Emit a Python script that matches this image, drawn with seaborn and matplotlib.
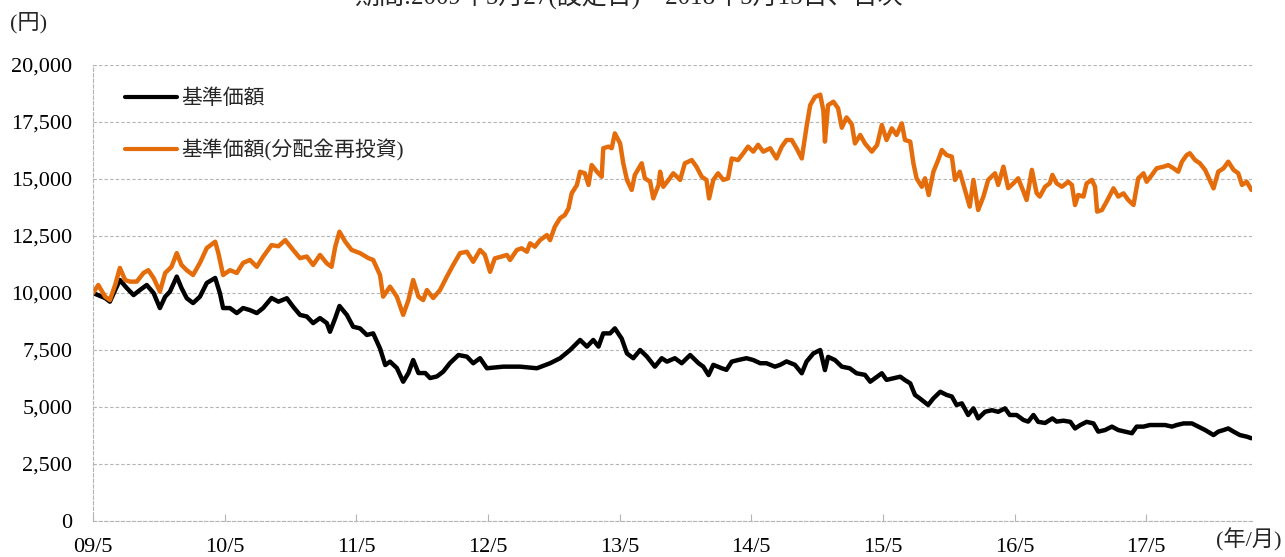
import numpy as np
import pandas as pd
import seaborn as sns
import matplotlib.pyplot as plt
from matplotlib.ticker import FuncFormatter

# Daily NAV, x = trading day since launch (2009/5/27)
nav_days = [0, 23, 32, 42, 51, 64, 77, 89, 102, 115, 127, 137, 146, 159, 168, 178, 190, 203,
            216, 232, 241, 247, 260, 273, 285, 298, 311, 323, 339, 352, 368, 380, 393, 406,
            418, 431, 444, 450, 460, 468, 482, 494, 507, 520, 532, 545, 555, 564, 577, 589,
            599, 608, 618, 631, 640, 653, 665, 678, 694, 710, 722, 735, 748, 779, 811, 843,
            868, 887, 906, 925, 938, 950, 960, 969, 982, 991, 1004, 1014, 1026, 1039, 1052,
            1067, 1080, 1090, 1105, 1118, 1134, 1150, 1159, 1169, 1178, 1194, 1203, 1213,
            1225, 1241, 1254, 1267, 1279, 1295, 1305, 1317, 1333, 1346, 1355, 1368, 1381,
            1390, 1396, 1409, 1422, 1437, 1450, 1466, 1476, 1485, 1498, 1507, 1520, 1533,
            1542, 1552, 1561, 1570, 1586, 1596, 1609, 1621, 1631, 1640, 1650, 1662, 1672,
            1681, 1694, 1707, 1719, 1732, 1741, 1754, 1767, 1776, 1786, 1795, 1808, 1822,
            1830, 1843, 1856, 1865, 1875, 1887, 1900, 1909, 1922, 1935, 1947, 1960, 1973,
            1982, 1995, 2007, 2023, 2036, 2049, 2058, 2071, 2087, 2099, 2112, 2128, 2137,
            2147, 2156, 2166, 2178, 2191, 2200]
nav = [10000, 9780, 9620, 10130, 10570, 10220, 9910, 10130, 10350, 10000, 9340, 9840, 10060,
       10720, 10220, 9770, 9560, 9840, 10440, 10660, 9990, 9340, 9340, 9120, 9340, 9250, 9120,
       9340, 9780, 9620, 9770, 9400, 9040, 8970, 8680, 8900, 8680, 8300, 8900, 9430, 9040,
       8520, 8450, 8160, 8230, 7570, 6840, 6990, 6710, 6110, 6490, 7060, 6490, 6490, 6270,
       6340, 6550, 6930, 7280, 7210, 6920, 7140, 6700, 6770, 6770, 6700, 6920, 7140, 7500,
       7940, 7650, 7940, 7650, 8230, 8230, 8450, 8000, 7350, 7140, 7500, 7210, 6770, 7140,
       6990, 7140, 6920, 7280, 6920, 6770, 6400, 6850, 6700, 6630, 6990, 7060, 7140, 7060,
       6920, 6920, 6770, 6850, 7000, 6850, 6480, 6990, 7350, 7500, 6620, 7200, 7060, 6770,
       6700, 6480, 6410, 6110, 6260, 6480, 6190, 6260, 6330, 6180, 6040, 5530, 5380, 5090,
       5380, 5670, 5530, 5460, 5090, 5160, 4650, 4940, 4500, 4790, 4860, 4790, 4940, 4650,
       4650, 4430, 4360, 4650, 4350, 4300, 4500, 4360, 4400, 4350, 4060, 4210, 4350, 4280,
       3920, 3990, 4140, 3990, 3920, 3850, 4140, 4140, 4210, 4210, 4210, 4140, 4210, 4280,
       4280, 4140, 3990, 3770, 3920, 3990, 4060, 3920, 3770, 3700, 3630]

reinv_days = [0, 10, 23, 32, 42, 51, 61, 70, 83, 96, 105, 115, 127, 137, 149, 159, 168, 178,
              190, 203, 216, 232, 238, 247, 260, 273, 285, 298, 311, 323, 339, 352, 365, 380,
              393, 406, 418, 431, 444, 453, 460, 468, 479, 491, 507, 523, 532, 545, 551, 564,
              577, 589, 599, 608, 618, 627, 634, 646, 659, 672, 684, 697, 710, 722, 735, 744,
              754, 763, 776, 786, 792, 805, 814, 824, 830, 839, 849, 862, 868, 877, 887, 896,
              903, 909, 919, 925, 934, 941, 947, 957, 966, 969, 979, 985, 991, 1001, 1007,
              1014, 1023, 1029, 1042, 1048, 1058, 1064, 1074, 1077, 1083, 1093, 1102, 1115,
              1124, 1137, 1146, 1156, 1165, 1170, 1178, 1187, 1197, 1206, 1213, 1225, 1235,
              1244, 1254, 1263, 1273, 1286, 1298, 1308, 1317, 1327, 1336, 1346, 1355, 1362,
              1371, 1381, 1387, 1390, 1396, 1406, 1415, 1422, 1431, 1441, 1447, 1457, 1466,
              1479, 1489, 1498, 1507, 1517, 1526, 1536, 1542, 1552, 1558, 1564, 1574, 1580,
              1587, 1596, 1605, 1612, 1621, 1631, 1637, 1646, 1656, 1665, 1672, 1681, 1691,
              1700, 1713, 1719, 1729, 1738, 1748, 1757, 1767, 1773, 1783, 1792, 1798, 1808,
              1817, 1822, 1830, 1840, 1852, 1859, 1865, 1871, 1881, 1887, 1897, 1903, 1907,
              1916, 1925, 1938, 1947, 1957, 1966, 1976, 1985, 1995, 2001, 2011, 2020, 2033,
              2042, 2052, 2061, 2068, 2077, 2083, 2093, 2102, 2112, 2118, 2128, 2137, 2147,
              2156, 2166, 2175, 2182, 2191, 2200]
reinv = [10000, 10350, 9840, 9690, 10350, 11100, 10570, 10500, 10500, 10880, 11000, 10660,
         10060, 10880, 11150, 11750, 11230, 11000, 10790, 11320, 11970, 12250, 11750, 10790,
         11000, 10880, 11320, 11450, 11150, 11590, 12100, 12050, 12320, 11890, 11530, 11600,
         11230, 11670, 11300, 11150, 12030, 12690, 12250, 11890, 11750, 11530, 11450, 10790,
         9840, 10280, 9840, 9040, 9690, 10570, 9840, 9690, 10130, 9780, 10130, 10720, 11230,
         11750, 11810, 11370, 11890, 11680, 10930, 11520, 11600, 11670, 11450, 11890, 11960,
         11810, 12180, 12030, 12320, 12540, 12320, 12910, 13280, 13420, 13710, 14370, 14740,
         15320, 15250, 14740, 15610, 15320, 15100, 16350, 16420, 16350, 17000, 16560, 15690,
         14960, 14520, 15180, 15690, 15030, 14880, 14150, 14740, 15320, 14660, 14960, 15250,
         14960, 15690, 15830, 15540, 15100, 14960, 14150, 14960, 15250, 14960, 15030, 15900,
         15830, 16130, 16420, 16200, 16500, 16200, 16350, 15900, 16420, 16710, 16710, 16350,
         15900, 17280, 18240, 18600, 18700, 18000, 16640, 18240, 18390, 18100, 17250, 17700,
         17400, 16560, 16930, 16560, 16200, 16490, 17370, 16710, 17220, 16930, 17440, 16710,
         16640, 15690, 15030, 14660, 15030, 14300, 15320, 15830, 16270, 16050, 15980, 14960,
         15320, 14520, 13790, 14960, 13640, 14230, 14960, 15250, 14740, 15540, 14600, 14810,
         15030, 14450, 14080, 15400, 14380, 14230, 14660, 14810, 15180, 14810, 14660, 14880,
         14740, 13860, 14300, 14230, 14810, 14960, 14660, 13570, 13640, 14010, 14590, 14230,
         14370, 14080, 13860, 15030, 15250, 14880, 15180, 15470, 15540, 15610, 15470, 15320,
         15760, 16050, 16130, 15830, 15690, 15400, 15100, 14590, 15320, 15470, 15760, 15400,
         15250, 14740, 14880, 14520]

tick_days = [0, 250, 500, 750, 1000, 1250, 1500, 1750, 2000]
tick_labels = ['09/5', '10/5', '11/5', '12/5', '13/5', '14/5', '15/5', '16/5', '17/5']

sns.set_theme(style='whitegrid')
plt.rcParams['font.family'] = ['Liberation Serif', 'Noto Sans CJK JP']

df_nav = pd.DataFrame({'day': nav_days, 'value': nav})
df_reinv = pd.DataFrame({'day': reinv_days, 'value': reinv})

fig = plt.figure(figsize=(12.85, 5.57), dpi=100)
ax = fig.add_axes([0.0724, 0.0646, 0.9019, 0.8187])

sns.lineplot(data=df_nav, x='day', y='value', ax=ax, color='black', linewidth=3.2,
             label='基準価額')
sns.lineplot(data=df_reinv, x='day', y='value', ax=ax, color='#E46C0A', linewidth=3.2,
             label='基準価額(分配金再投資)')

ax.set_xlim(0, 2201)
ax.set_ylim(0, 20000)
ax.set_yticks(np.arange(0, 20001, 2500))
ax.yaxis.set_major_formatter(FuncFormatter(lambda v, p: f'{int(v):,}'))
ax.set_xticks(tick_days)
ax.set_xticklabels(tick_labels)
ax.set_xlabel('')
ax.set_ylabel('')

ax.grid(axis='x', visible=False)
ax.grid(axis='y', color='#b4b4b4', linestyle=(0, (3, 2)), linewidth=0.8)
for side in ['top', 'right']:
    ax.spines[side].set_visible(False)
for side in ['left', 'bottom']:
    ax.spines[side].set_visible(True)
    ax.spines[side].set_color('#b4b4b4')
    ax.spines[side].set_linestyle((0, (3, 2)))
    ax.spines[side].set_linewidth(0.8)

ax.tick_params(axis='x', direction='in', length=5, color='#b4b4b4', width=0.8,
               bottom=True, labelsize=16, pad=12, labelcolor='black')
ax.tick_params(axis='y', length=0, labelsize=16, pad=15, labelcolor='black')

leg = ax.legend(loc='upper left', bbox_to_anchor=(0.0276, 0.946), frameon=False,
                fontsize=15, handlelength=2.5, handletextpad=0.2, labelspacing=1.45,
                borderpad=0, borderaxespad=0)
for line in leg.get_lines():
    line.set_linewidth(3)

fig.text(0.008, 0.96, '(円)', fontsize=16, ha='left', va='center')
fig.text(0.997, 0.03, '(年/月)', fontsize=16, ha='right', va='center')
fig.text(0.489, 1 - 9 / 557, '期間:2009年5月27(設定日)～2018年5月15日、日次', fontsize=18,
         ha='center', va='bottom')

fig.savefig('out.png', dpi=100)
